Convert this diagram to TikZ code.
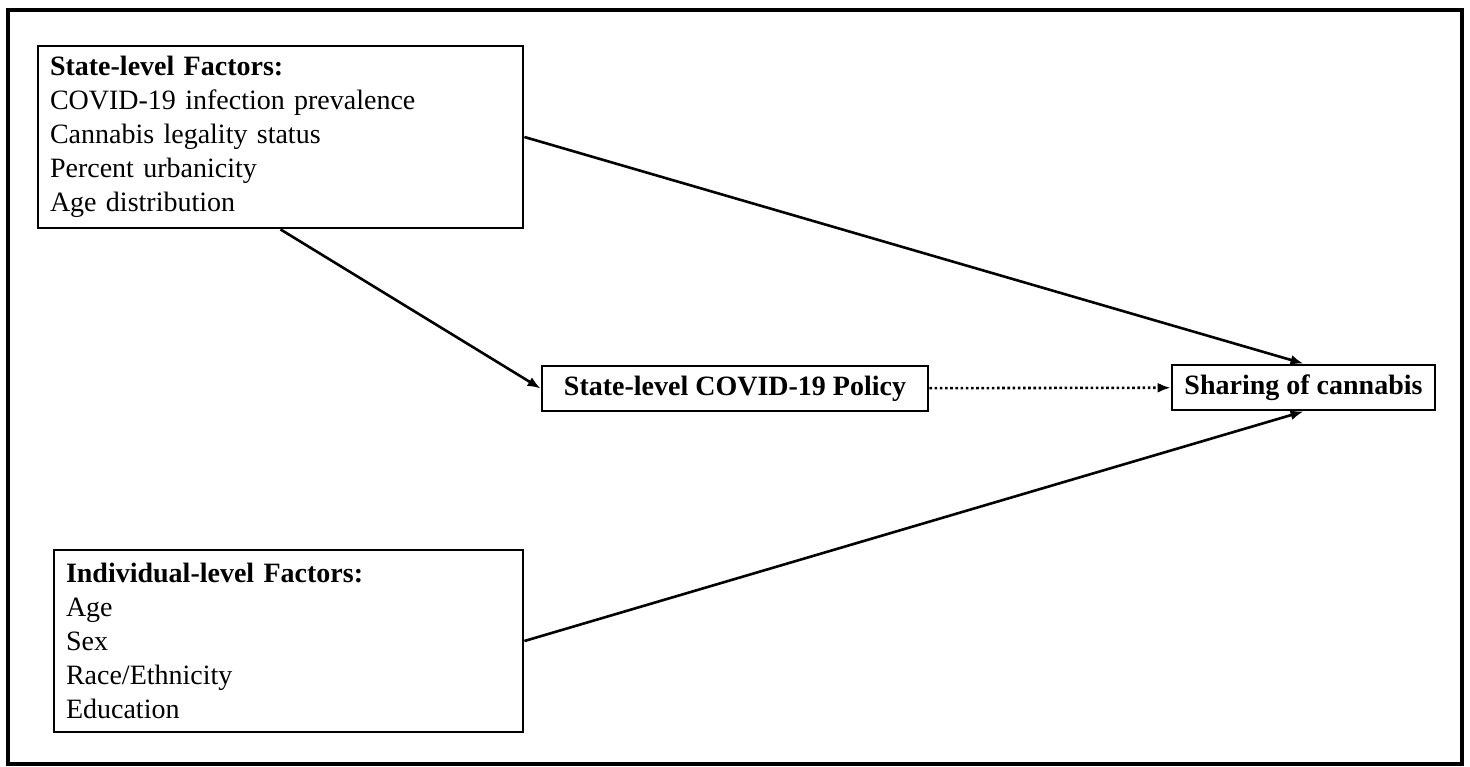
\documentclass[tikz,border=0pt]{standalone}
\usepackage{fontspec}
\setmainfont{Liberation Serif}
\usetikzlibrary{arrows.meta}
\begin{document}
\begin{tikzpicture}
  [x=0.5pt,y=-0.5pt,
   every node/.style={draw,line width=1.4pt,inner sep=0pt,
     font=\fontsize{14}{17}\selectfont},
   factors/.style={align=left,inner xsep=6pt,text width=#1,minimum height=91pt},
   single/.style={font=\fontsize{14}{17}\selectfont\bfseries,minimum height=22.5pt},
   link/.style={line width=1.3pt,-{Latex[length=6.5pt,width=5pt]}}]
  \useasboundingbox (0,0) rectangle (1470,766);
  \draw[line width=1.6pt] (8,10) rectangle (1462,764);

  \node[factors=230.5pt] (state) at (280.5,137)
    {\textbf{State-level Factors:}\\COVID-19 infection prevalence\\Cannabis legality status\\Percent urbanicity\\Age distribution};
  \node[factors=222.5pt] (indiv) at (288.5,641)
    {\textbf{Individual-level Factors:}\\Age\\Sex\\Race/Ethnicity\\Education};
  \node[single,minimum width=193pt] (policy) at (735,388.5) {State-level COVID-19 Policy};
  \node[single,minimum width=131.5pt] (share) at (1303.5,387.5) {Sharing of cannabis};

  \foreach \from/\to in {state.east/share.north, state.south/policy.west, indiv.east/share.south}
    \draw[link] (\from) -- (\to);
  \draw[link,dash pattern=on 1.3pt off 1.3pt] (policy) -- (share);
\end{tikzpicture}
\end{document}
